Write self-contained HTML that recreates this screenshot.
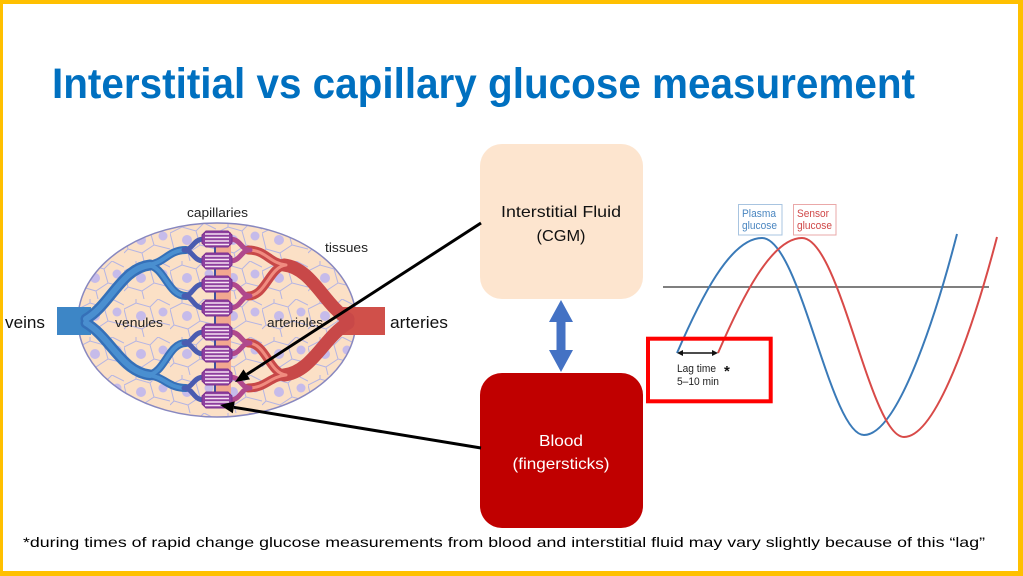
<!DOCTYPE html>
<html><head><meta charset="utf-8"><style>
html,body{margin:0;padding:0;background:#fff;}
svg{display:block;}
text{font-family:"Liberation Sans",sans-serif;}
</style></head><body>
<svg width="1023" height="576" viewBox="0 0 1023 576" xmlns="http://www.w3.org/2000/svg">
<defs>
<pattern id="cells" width="46" height="38" patternUnits="userSpaceOnUse" x="78" y="223">
<rect width="46" height="38" fill="#fbe0c6"/>
<path d="M0,10 L12,4 L26,8 L34,0 M26,8 L30,22 L46,26 M30,22 L18,30 L20,38 M18,30 L4,26 L0,10 M12,4 L12,0 M4,26 L0,30 M34,0 L46,6" stroke="#b4b4e4" stroke-width="1" fill="none"/>
<circle cx="17" cy="17" r="5" fill="#c6bbea"/>
<circle cx="39" cy="13" r="4.5" fill="#c6bbea"/>
</pattern>
<clipPath id="ell"><ellipse cx="217" cy="320" rx="139" ry="97"/></clipPath>
</defs>
<rect width="1023" height="576" fill="#FFC000"/>
<rect x="3" y="4" width="1015" height="567" fill="#ffffff"/>

<text x="52" y="98" font-size="43" font-weight="bold" fill="#0070C0" textLength="863" lengthAdjust="spacingAndGlyphs">Interstitial vs capillary glucose measurement</text>

<!-- capillary bed -->
<ellipse cx="217" cy="320" rx="139" ry="97" fill="url(#cells)" stroke="#8888c0" stroke-width="1.5"/>
<rect x="57" y="307" width="34" height="28" fill="#3d86c6"/>
<rect x="340" y="307" width="45" height="28" fill="#d0504a"/>
<g fill="none" stroke-linecap="round">
<!-- blue -->
<g stroke="#3570b8">
<path d="M86,319 C110,305 122,268 150,265" stroke-width="11"/>
<path d="M86,323 C110,337 122,372 150,375" stroke-width="11"/>
<path d="M148,265 C165,263 168,250 186,250 M148,265 C165,267 168,296 186,296 M148,375 C165,373 168,343 186,343 M148,375 C165,377 168,388 186,388" stroke-width="8"/>
</g>
<g stroke="#4a8fd0">
<path d="M86,319 C110,305 122,268 150,265" stroke-width="6"/>
<path d="M86,323 C110,337 122,372 150,375" stroke-width="6"/>
<path d="M148,265 C165,263 168,250 186,250 M148,265 C165,267 168,296 186,296 M148,375 C165,373 168,343 186,343 M148,375 C165,377 168,388 186,388" stroke-width="4"/>
</g>
<g stroke="#4a5cb0" stroke-width="5">
<path d="M184,250 C193,250 193,239 204,239 M184,250 C193,250 193,261 204,261 M184,296 C193,296 193,284 204,284 M184,296 C193,296 193,308 204,308 M184,343 C193,343 193,332 204,332 M184,343 C193,343 193,354 204,354 M184,388 C193,388 193,377 204,377 M184,388 C193,388 193,400 204,400"/>
</g>
<!-- red mirrored -->
<g transform="matrix(-1,0,0,1,434,0)">
<g stroke="#c84848">
<path d="M86,319 C110,305 122,268 150,265" stroke-width="13"/>
<path d="M86,323 C110,337 122,372 150,375" stroke-width="13"/>
<path d="M148,265 C165,263 168,250 186,250 M148,265 C165,267 168,296 186,296 M148,375 C165,373 168,343 186,343 M148,375 C165,377 168,388 186,388" stroke-width="9"/>
</g>
<g stroke="#f08c80">
<path d="M148,265 C165,263 168,250 186,250 M148,265 C165,267 168,296 186,296 M148,375 C165,373 168,343 186,343 M148,375 C165,377 168,388 186,388" stroke-width="3"/>
</g>
<g stroke="#b0488c" stroke-width="5">
<path d="M184,250 C193,250 193,239 204,239 M184,250 C193,250 193,261 204,261 M184,296 C193,296 193,284 204,284 M184,296 C193,296 193,308 204,308 M184,343 C193,343 193,332 204,332 M184,343 C193,343 193,354 204,354 M184,388 C193,388 193,377 204,377 M184,388 C193,388 193,400 204,400"/>
</g>
</g>
</g>
<rect x="216" y="232" width="15" height="176" fill="#f2a890"/>
<line x1="215" y1="232" x2="215" y2="408" stroke="#4050a0" stroke-width="2"/>
<g id="caps" fill="#8e3f9e" stroke="#7a3090" stroke-width="1">
<polygon points="206,231 228,231 232,235 232,243 228,247 206,247 202,243 202,235"/>
<polygon points="206,253 228,253 232,257 232,265 228,269 206,269 202,265 202,257"/>
<polygon points="206,276 228,276 232,280 232,288 228,292 206,292 202,288 202,280"/>
<polygon points="206,300 228,300 232,304 232,312 228,316 206,316 202,312 202,304"/>
<polygon points="206,324 228,324 232,328 232,336 228,340 206,340 202,336 202,328"/>
<polygon points="206,346 228,346 232,350 232,358 228,362 206,362 202,358 202,350"/>
<polygon points="206,369 228,369 232,373 232,381 228,385 206,385 202,381 202,373"/>
<polygon points="206,392 228,392 232,396 232,404 228,408 206,408 202,404 202,396"/>
</g>
<g stroke="#f6e2f2" stroke-width="1.4">
<path d="M205,234h24M205,237.5h24M205,241h24M205,244.5h24
M205,256h24M205,259.5h24M205,263h24M205,266.5h24
M205,279h24M205,282.5h24M205,286h24M205,289.5h24
M205,303h24M205,306.5h24M205,310h24M205,313.5h24
M205,327h24M205,330.5h24M205,334h24M205,337.5h24
M205,349h24M205,352.5h24M205,356h24M205,359.5h24
M205,372h24M205,375.5h24M205,379h24M205,382.5h24
M205,395h24M205,398.5h24M205,402h24M205,405.5h24"/>
</g>

<text x="5" y="328" font-size="17" fill="#111" textLength="40" lengthAdjust="spacingAndGlyphs">veins</text>
<text x="390" y="328" font-size="17" fill="#111" textLength="58" lengthAdjust="spacingAndGlyphs">arteries</text>
<text x="187" y="217" font-size="13" fill="#222" textLength="61" lengthAdjust="spacingAndGlyphs">capillaries</text>
<text x="325" y="252" font-size="13" fill="#222" textLength="43" lengthAdjust="spacingAndGlyphs">tissues</text>
<text x="115" y="327" font-size="13" fill="#222" textLength="48" lengthAdjust="spacingAndGlyphs">venules</text>
<text x="267" y="327" font-size="13" fill="#222" textLength="56" lengthAdjust="spacingAndGlyphs">arterioles</text>

<!-- boxes -->
<rect x="480" y="144" width="163" height="155" rx="22" fill="#FDE5CF"/>
<rect x="480" y="373" width="163" height="155" rx="22" fill="#C00000"/>
<text x="561" y="217" font-size="16" fill="#111" text-anchor="middle" textLength="120" lengthAdjust="spacingAndGlyphs">Interstitial Fluid</text>
<text x="561" y="241" font-size="16" fill="#111" text-anchor="middle" textLength="49" lengthAdjust="spacingAndGlyphs">(CGM)</text>
<text x="561" y="446" font-size="16" fill="#fff" text-anchor="middle" textLength="44" lengthAdjust="spacingAndGlyphs">Blood</text>
<text x="561" y="469" font-size="16" fill="#fff" text-anchor="middle" textLength="97" lengthAdjust="spacingAndGlyphs">(fingersticks)</text>

<polygon points="561,300 573,322 565.5,322 565.5,350 573,350 561,372 549,350 556.5,350 556.5,322 549,322" fill="#4472C4"/>

<!-- black arrows -->
<line x1="481" y1="223" x2="246.8" y2="374.4" stroke="#000" stroke-width="3"/>
<polygon points="235,382 250,379.4 243.5,369.4" fill="#000"/>
<line x1="481" y1="448" x2="233.8" y2="407.3" stroke="#000" stroke-width="3"/>
<polygon points="220,405 234.8,401.4 232.8,413.2" fill="#000"/>

<!-- graph -->
<line x1="663" y1="287" x2="989" y2="287" stroke="#555" stroke-width="1.5"/>
<path d="M677,353 C700,300 730,238 762,238 C800,238 830,435 864,435 C900,435 940,300 957,234" fill="none" stroke="#3a7ab8" stroke-width="2"/>
<path d="M718,353 C741,300 771,238 802,238 C840,238 870,437 904,437 C940,437 980,302 997,237" fill="none" stroke="#d84a48" stroke-width="2"/>
<rect x="738.5" y="204.5" width="43.5" height="30.5" fill="none" stroke="#a8c4e0" stroke-width="1"/>
<rect x="793.5" y="204.5" width="42.5" height="30.5" fill="none" stroke="#eaa8a8" stroke-width="1"/>
<text x="742" y="217" font-size="11" fill="#4a86c0" textLength="34" lengthAdjust="spacingAndGlyphs">Plasma</text>
<text x="742" y="229" font-size="11" fill="#4a86c0" textLength="35" lengthAdjust="spacingAndGlyphs">glucose</text>
<text x="797" y="217" font-size="11" fill="#d04848" textLength="32" lengthAdjust="spacingAndGlyphs">Sensor</text>
<text x="797" y="229" font-size="11" fill="#d04848" textLength="35" lengthAdjust="spacingAndGlyphs">glucose</text>

<rect x="648" y="338.7" width="122.7" height="62.6" fill="none" stroke="#ff0000" stroke-width="4"/>
<line x1="679" y1="353" x2="716" y2="353" stroke="#111" stroke-width="1.5"/>
<polygon points="677,353 683,350 683,356" fill="#111"/>
<polygon points="718,353 712,350 712,356" fill="#111"/>
<text x="677" y="372" font-size="11" fill="#222" textLength="39" lengthAdjust="spacingAndGlyphs">Lag time</text>
<text x="677" y="385" font-size="11" fill="#222" textLength="42" lengthAdjust="spacingAndGlyphs">5–10 min</text>
<text x="724" y="376" font-size="15" font-weight="bold" fill="#111">*</text>

<text x="23" y="547" font-size="14" fill="#000" textLength="962" lengthAdjust="spacingAndGlyphs">*during times of rapid change glucose measurements from blood and interstitial fluid may vary slightly because of this “lag”</text>
</svg>
</body></html>
